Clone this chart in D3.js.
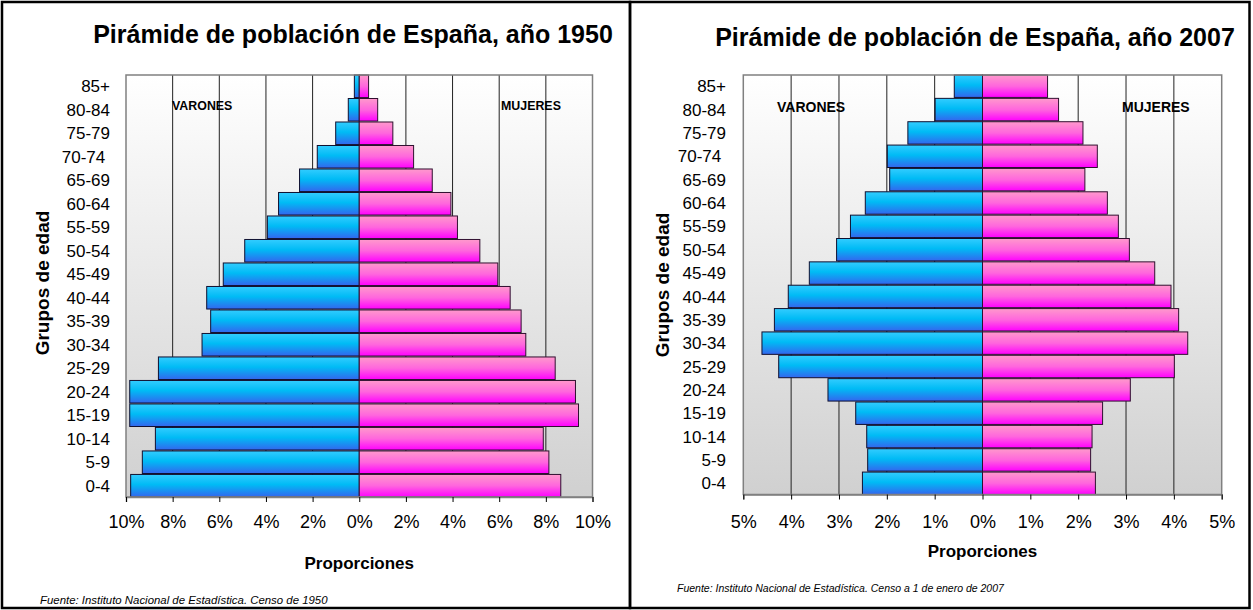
<!DOCTYPE html>
<html>
<head>
<meta charset="utf-8">
<script src="https://cdn.jsdelivr.net/npm/d3@7"></script>
<style>
  body { margin: 0; background: #fff; }
  text { font-family: "Liberation Sans", Arial, sans-serif; fill: #000; }
</style>
</head>
<body>
<svg id="chart" width="1253" height="610"></svg>
<script>
// Data

var ageGroups = ['0-4', '5-9', '10-14', '15-19', '20-24', '25-29', '30-34', '35-39', '40-44',
  '45-49', '50-54', '55-59', '60-64', '65-69', '70-74 ', '75-79', '80-84', '85+'];

// porcentajes, de 0-4 a 85+
var male1950   = [9.8, 9.3, 8.74, 9.84, 9.84, 8.61, 6.74, 6.37, 6.54, 5.83, 4.91, 3.94, 3.46, 2.56, 1.8, 1.01, 0.47, 0.21];
var female1950 = [8.64, 8.13, 7.89, 9.4, 9.27, 8.4, 7.14, 6.94, 6.47, 5.94, 5.17, 4.21, 3.93, 3.13, 2.33, 1.44, 0.79, 0.4];
var male2007   = [2.51, 2.4, 2.42, 2.65, 3.23, 4.26, 4.61, 4.35, 4.06, 3.62, 3.05, 2.76, 2.45, 1.94, 1.99, 1.56, 0.99, 0.59];
var female2007 = [2.36, 2.26, 2.29, 2.51, 3.09, 4.01, 4.29, 4.1, 3.94, 3.6, 3.07, 2.84, 2.61, 2.14, 2.4, 2.1, 1.59, 1.36];

var ticks1950 = [-10, -8, -6, -4, -2, 0, 2, 4, 6, 8, 10];
var ticks2007 = [-5, -4, -3, -2, -1, 0, 1, 2, 3, 4, 5];

var svg = d3.select("#chart");

// Gradients

var defs = svg.append("defs");

function vGrad(id, stops) {
  var g = defs.append("linearGradient")
    .attr("id", id)
    .attr("x1", 0).attr("y1", 0)
    .attr("x2", 0).attr("y2", 1);
  stops.forEach(function(s) {
    g.append("stop").attr("offset", s[0]).attr("stop-color", s[1]);
  });
}

vGrad("bgGrad", [[0, "#ffffff"], [1, "#d0d0d0"]]);
vGrad("maleGrad", [[0, "#33ccff"], [0.45, "#00bbf5"], [1, "#3366ee"]]);
vGrad("femaleGrad", [[0, "#ff99cc"], [0.5, "#ff66dd"], [1, "#ff00ff"]]);

// Panel borders

svg.append("rect")
  .attr("x", 2).attr("y", 2)
  .attr("width", 628).attr("height", 606)
  .attr("fill", "none").attr("stroke", "#000").attr("stroke-width", 2.5);

svg.append("rect")
  .attr("x", 630).attr("y", 2)
  .attr("width", 619.5).attr("height", 606)
  .attr("fill", "none").attr("stroke", "#000").attr("stroke-width", 2.5);

function drawPyramid(cfg) {

  var x = d3.scaleLinear()
    .domain([cfg.ticks[0], cfg.ticks[cfg.ticks.length - 1]])
    .range([cfg.left, cfg.right]);

  var y = d3.scaleBand()
    .domain(ageGroups.slice().reverse())
    .range([cfg.top, cfg.bottom])
    .paddingInner(0.04);

  var g = svg.append("g");

  // Plot background

  g.append("rect")
    .attr("x", cfg.left).attr("y", cfg.top)
    .attr("width", cfg.right - cfg.left)
    .attr("height", cfg.bottom - cfg.top)
    .attr("fill", "url(#bgGrad)");

  // Vertical gridlines

  g.selectAll(".grid")
    .data(cfg.ticks.slice(1, -1))
    .enter()
    .append("line")
    .attr("x1", function(d) { return x(d); })
    .attr("x2", function(d) { return x(d); })
    .attr("y1", cfg.top).attr("y2", cfg.bottom)
    .attr("stroke", "#222")
    .attr("stroke-width", 1);

  // Bars

  g.selectAll(".male")
    .data(cfg.male)
    .enter()
    .append("rect")
    .attr("x", function(d) { return x(-d); })
    .attr("y", function(d, i) { return y(ageGroups[i]); })
    .attr("width", function(d) { return x(0) - x(-d); })
    .attr("height", y.bandwidth())
    .attr("fill", "url(#maleGrad)")
    .attr("stroke", "#101030")
    .attr("stroke-width", 1);

  g.selectAll(".female")
    .data(cfg.female)
    .enter()
    .append("rect")
    .attr("x", x(0))
    .attr("y", function(d, i) { return y(ageGroups[i]); })
    .attr("width", function(d) { return x(d) - x(0); })
    .attr("height", y.bandwidth())
    .attr("fill", "url(#femaleGrad)")
    .attr("stroke", "#301030")
    .attr("stroke-width", 1);

  // Plot border

  g.append("rect")
    .attr("x", cfg.left).attr("y", cfg.top)
    .attr("width", cfg.right - cfg.left)
    .attr("height", cfg.bottom - cfg.top)
    .attr("fill", "none")
    .attr("stroke", "#808080")
    .attr("stroke-width", 1.5);

  // X axis

  var xAxis = d3.axisBottom(x)
    .tickValues(cfg.ticks)
    .tickSize(5)
    .tickPadding(cfg.tickPad)
    .tickFormat(function(d) { return Math.abs(d) + "%"; });

  var ax = g.append("g")
    .attr("transform", "translate(0," + cfg.bottom + ")")
    .call(xAxis);

  ax.select(".domain").attr("stroke", "#808080").attr("stroke-width", 1.5);
  ax.selectAll(".tick line").attr("stroke", "#000");
  ax.selectAll("text")
    .style("font-family", '"Liberation Sans", Arial, sans-serif')
    .style("font-size", "18px")
    .attr("fill", "#000");

  // Y labels

  g.selectAll(".ylab")
    .data(ageGroups)
    .enter()
    .append("text")
    .attr("x", cfg.labelX)
    .attr("y", function(d) { return y(d) + y.bandwidth() / 2; })
    .attr("dy", "0.36em")
    .attr("text-anchor", "end")
    .style("white-space", "pre")
    .style("font-size", "17px")
    .text(function(d) { return d; });

  // Titles

  g.append("text")
    .attr("x", cfg.titleX).attr("y", cfg.titleY)
    .attr("text-anchor", "middle")
    .style("font-size", "25px")
    .style("font-weight", "bold")
    .text(cfg.title);

  g.append("text")
    .attr("transform", "translate(" + cfg.yTitleX + "," + cfg.yTitleY + ") rotate(-90)")
    .attr("text-anchor", "middle")
    .style("font-size", "19px")
    .style("font-weight", "bold")
    .text("Grupos de edad");

  g.append("text")
    .attr("x", x(0)).attr("y", cfg.xTitleY)
    .attr("text-anchor", "middle")
    .style("font-size", "17px")
    .style("font-weight", "bold")
    .text("Proporciones");

  g.append("text")
    .attr("x", cfg.varonesX).attr("y", cfg.sexY)
    .style("font-size", cfg.sexSize)
    .style("font-weight", "bold")
    .text("VARONES");

  g.append("text")
    .attr("x", cfg.mujeresX).attr("y", cfg.sexY)
    .style("font-size", cfg.sexSize)
    .style("font-weight", "bold")
    .text("MUJERES");

  g.append("text")
    .attr("x", cfg.sourceX).attr("y", cfg.sourceY)
    .style("font-size", cfg.sourceSize)
    .style("font-style", "italic")
    .attr("fill", "#111")
    .text(cfg.source);
}

drawPyramid({
  male: male1950, female: female1950, ticks: ticks1950,
  left: 126, right: 592.5, top: 75, bottom: 497, tickPad: 13, labelX: 110,
  title: "Pirámide de población de España, año 1950", titleX: 353, titleY: 43,
  yTitleX: 49, yTitleY: 283, xTitleY: 569,
  varonesX: 172, mujeresX: 501, sexY: 110, sexSize: "12.4px",
  source: "Fuente: Instituto Nacional de Estadística. Censo de 1950",
  sourceX: 40, sourceY: 604, sourceSize: "11.4px"
});

drawPyramid({
  male: male2007, female: female2007, ticks: ticks2007,
  left: 743.3, right: 1221.7, top: 75, bottom: 494.5, tickPad: 16, labelX: 726,
  title: "Pirámide de población de España, año 2007", titleX: 975, titleY: 46,
  yTitleX: 669, yTitleY: 285, xTitleY: 557,
  varonesX: 777, mujeresX: 1122, sexY: 112, sexSize: "14px",
  source: "Fuente: Instituto Nacional de Estadística. Censo a 1 de enero de 2007",
  sourceX: 677, sourceY: 592, sourceSize: "10.5px"
});
</script>
</body>
</html>
